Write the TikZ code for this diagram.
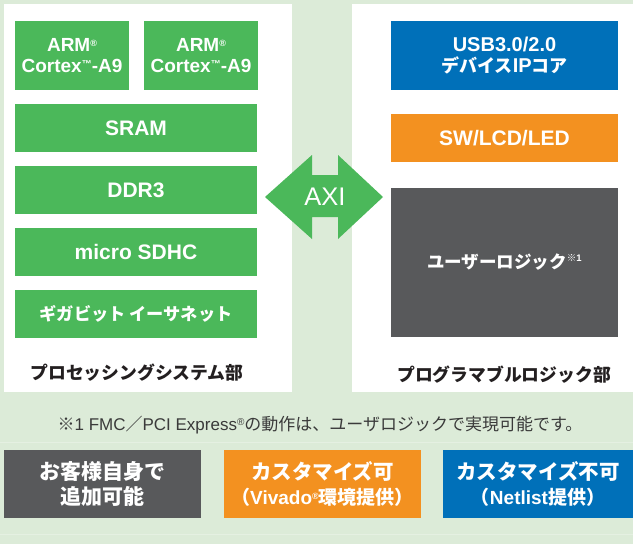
\documentclass[tikz,border=0pt]{standalone}
\usepackage{fontspec}
\setmainfont{Liberation Sans}
\newfontfamily\jpfont{Noto Sans CJK JP}
\newcommand\J[1]{{\jpfont #1}}
\newcommand\regm{{\fontsize{9}{9}\selectfont\raisebox{0.55em}{®}}}
\newcommand\tmm{{\fontsize{10}{10}\selectfont\raisebox{0.45em}{™}}}
\definecolor{bgc}{HTML}{DCEBD8}
\definecolor{sepc}{HTML}{E5F0E2}
\definecolor{gc}{HTML}{4BB85A}
\definecolor{bc}{HTML}{0070B9}
\definecolor{oc}{HTML}{F39120}
\definecolor{dc}{HTML}{58595B}
\definecolor{tc}{HTML}{231F20}
\definecolor{nc}{HTML}{3A3A3A}
\begin{document}
\begin{tikzpicture}[x=1pt,y=-1pt,
  cbox/.style={inner sep=0pt, text=white, align=center, font=\bfseries},
  gbox/.style={cbox, fill=gc},
  panel/.style={fill=white, draw=none},
  lbl/.style={text=tc, font=\bfseries\fontsize{17.8}{20}\selectfont, inner sep=0pt},
  sep/.style={draw=sepc, line width=1pt}]
\useasboundingbox (0,0) rectangle (633,544);
\fill[bgc] (0,0) rectangle (633,544);
% panels
\fill[white] (4,4) rectangle (292,392);
\fill[white] (352,4) rectangle (633,392);
% processing system
\node[gbox, minimum width=114, minimum height=69, font=\bfseries\fontsize{19}{20.5}\selectfont] (arm1) at (72,55.5) {ARM\regm\\Cortex\tmm-A9};
\node[gbox, minimum width=114, minimum height=69, font=\bfseries\fontsize{19}{20.5}\selectfont] (arm2) at (201,55.5) {ARM\regm\\Cortex\tmm-A9};
\node[gbox, minimum width=242, minimum height=48, font=\bfseries\fontsize{21}{22}\selectfont] (sram) at (136,128) {SRAM};
\node[gbox, minimum width=242, minimum height=48, font=\bfseries\fontsize{21}{22}\selectfont] (ddr) at (136,190) {DDR3};
\node[gbox, minimum width=242, minimum height=48, font=\bfseries\fontsize{21}{22}\selectfont] (sd) at (136,252) {micro SDHC};
\node[gbox, minimum width=242, minimum height=48, font=\bfseries\fontsize{17.2}{20}\selectfont] (gbe) at (136,314) {\J{ギガビット イーサネット}};
\node[lbl] (pslbl) at (137,373) {\J{プロセッシングシステム部}};
% programmable logic
\node[cbox, fill=bc, minimum width=227, minimum height=69, font=\bfseries\fontsize{20}{20.5}\selectfont] (usb) at (504.5,55.5) {USB3.0/2.0\\\J{\fontsize{18}{20}\selectfont デバイス}IP\J{\fontsize{18}{20}\selectfont コア}};
\node[cbox, fill=oc, minimum width=227, minimum height=48, font=\bfseries\fontsize{21}{22}\selectfont] (sw) at (504.5,138) {SW/LCD/LED};
\node[cbox, fill=dc, minimum width=227, minimum height=149, font=\bfseries\fontsize{17.5}{20}\selectfont] (ul) at (504.5,262.5) {\J{ユーザーロジック}\raisebox{0.4em}{\fontsize{9.5}{9.5}\selectfont\J{※}1}};
\node[lbl] (pllbl) at (504,375) {\J{プログラマブルロジック部}};
% AXI double arrow
\fill[gc] (265,197) -- (312,155) -- (312,175) -- (338,175) -- (338,155) -- (383,197)
  -- (338,239) -- (338,217) -- (312,217) -- (312,239) -- cycle;
\node[text=white, inner sep=0pt, font=\fontsize{25.5}{26}\selectfont] (axi) at (325,197) {AXI};
% note
\node[text=nc, inner sep=0pt, font=\fontsize{17}{18}\selectfont] (note) at (320,425)
  {\J{※}1 FMC\J{／}PCI Express{\fontsize{10}{10}\selectfont\raisebox{0.5em}{®}}\J{の動作は、ユーザロジックで実現可能です。}};
\coordinate (s1a) at (0,442); \coordinate (s1b) at (633,442);
\coordinate (s2a) at (0,534); \coordinate (s2b) at (633,534);
\draw[sep] (s1a) -- (s1b);
\draw[sep] (s2a) -- (s2b);
% legend boxes
\node[cbox, fill=dc, minimum width=197, minimum height=68, font=\bfseries\fontsize{21}{25}\selectfont] (own) at (102.5,484) {\J{お客様自身で}\\\J{追加可能}};
\node[cbox, fill=oc, minimum width=197, minimum height=68, font=\bfseries\fontsize{20.5}{25}\selectfont] (cus) at (322.5,484) {\J{カスタマイズ可}\\{\fontsize{19}{20}\selectfont\J{（}Vivado\regm\J{環境提供）}}};
\node[cbox, fill=bc, minimum width=190, minimum height=68, font=\bfseries\fontsize{20.5}{25}\selectfont] (ncus) at (538,484) {\J{カスタマイズ不可}\\{\fontsize{19}{20}\selectfont\J{（}Netlist\J{提供）}}};
\end{tikzpicture}
\end{document}
